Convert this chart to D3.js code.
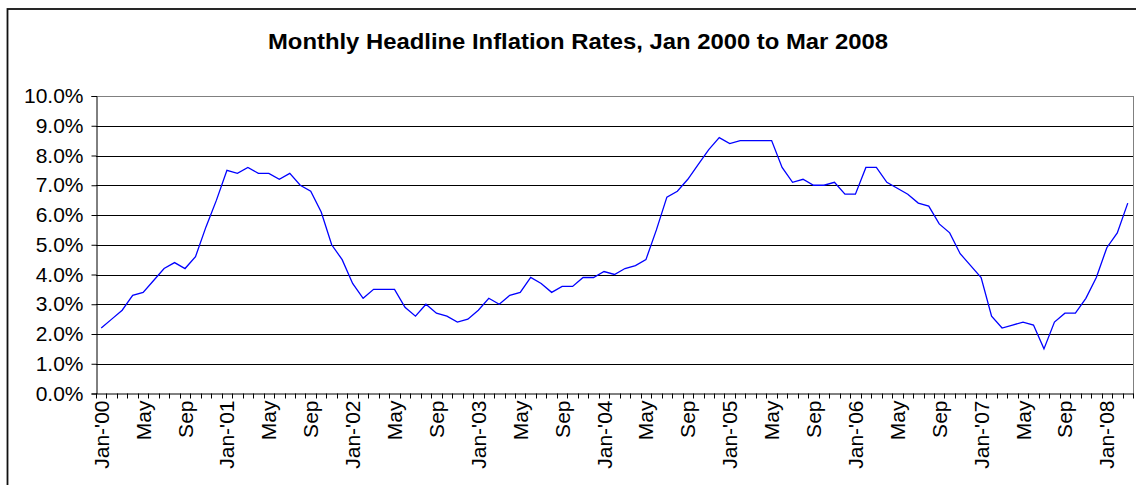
<!DOCTYPE html>
<html><head><meta charset="utf-8">
<script src="https://cdn.jsdelivr.net/npm/d3@7"></script>
<style>
html,body{margin:0;padding:0;background:#fff;}
svg text{font-family:Arial,"Liberation Sans",sans-serif;fill:#000;}
</style></head>
<body><svg id="c" width="1136" height="485"></svg>
<script>
const title = "Monthly Headline Inflation Rates, Jan 2000 to Mar 2008";
const monthNames = ["Jan","Feb","Mar","Apr","May","Jun","Jul","Aug","Sep","Oct","Nov","Dec"];
const years = ["00","01","02","03","04","05","06","07","08"];
const inflation2000 = [2.2,2.5,2.8,3.3,3.4,3.8,4.2,4.4,4.2,4.6,5.6,6.5];
const inflation2001 = [7.5,7.4,7.6,7.4,7.4,7.2,7.4,7.0,6.8,6.1,5.0,4.5];
const inflation2002 = [3.7,3.2,3.5,3.5,3.5,2.9,2.6,3.0,2.7,2.6,2.4,2.5];
const inflation2003 = [2.8,3.2,3.0,3.3,3.4,3.9,3.7,3.4,3.6,3.6,3.9,3.9];
const inflation2004 = [4.1,4.0,4.2,4.3,4.5,5.5,6.6,6.8,7.2,7.7,8.2,8.6];
const inflation2005 = [8.4,8.5,8.5,8.5,8.5,7.6,7.1,7.2,7.0,7.0,7.1,6.7];
const inflation2006 = [6.7,7.6,7.6,7.1,6.9,6.7,6.4,6.3,5.7,5.4,4.7,4.3];
const inflation2007 = [3.9,2.6,2.2,2.3,2.4,2.3,1.5,2.4,2.7,2.7,3.2,3.9];
const inflation2008 = [4.9,5.4,6.4];
const yTicks = [0,1,2,3,4,5,6,7,8,9,10];

const values = [].concat(inflation2000,inflation2001,inflation2002,inflation2003,
  inflation2004,inflation2005,inflation2006,inflation2007,inflation2008);
const categories = values.map((v,i)=>{
  const m = i%12, y = Math.floor(i/12);
  return m===0 ? "Jan-'"+years[y] : monthNames[m];
});
const labelIdx = categories.map((c,i)=>i).filter(i=>i%4===0);

const svg = d3.select("#c");
const L=96, R=1133, T=96, B=393.5;

// outer chart border (partially cropped)
svg.append("rect").attr("x",7.5).attr("y",9).attr("width",1200).attr("height",600)
  .attr("fill","none").attr("stroke","#111").attr("stroke-width",1.8);

const x = d3.scaleBand().domain(d3.range(values.length)).range([L,R]).paddingInner(0).paddingOuter(0);
const y = d3.scaleLinear().domain([0,10]).range([B,T]);

// gridlines
svg.append("g").selectAll("line").data(yTicks.filter(d=>d>0)).join("line")
  .attr("x1",L).attr("x2",R).attr("y1",d=>Math.round(y(d))+0.5).attr("y2",d=>Math.round(y(d))+0.5)
  .attr("stroke",d=>d===10?"#808080":"#000").attr("stroke-width",1);
// right plot border
svg.append("line").attr("x1",R+0.5).attr("x2",R+0.5).attr("y1",T).attr("y2",B)
  .attr("stroke","#808080");

// y axis
const yAxis = d3.axisLeft(y).tickValues(yTicks).tickFormat(d=>d.toFixed(1)+"%").tickSize(5).tickPadding(8);
const gy = svg.append("g").attr("transform",`translate(${L+0.5},0)`).call(yAxis);
gy.select(".domain").attr("stroke","#000");
gy.selectAll(".tick line").attr("stroke","#000");
gy.selectAll("text").style("font-size","21px").attr("fill","#000");

// x axis ticks at category boundaries
const xb = d3.range(values.length+1).map(i=> i<values.length ? x(i) : x(values.length-1)+x.bandwidth());
svg.append("line").attr("x1",L).attr("x2",R+1).attr("y1",B+0.5).attr("y2",B+0.5).attr("stroke","#000");
svg.append("g").selectAll("line").data(xb).join("line")
  .attr("x1",d=>Math.round(d)+0.5).attr("x2",d=>Math.round(d)+0.5)
  .attr("y1",B).attr("y2",B+5).attr("stroke","#000");

// x labels
svg.append("g").selectAll("text").data(labelIdx).join("text")
  .attr("transform",i=>`translate(${x(i)+x.bandwidth()/2},${B+7}) rotate(-90)`)
  .attr("text-anchor","end").attr("dy","0.36em").style("font-size","21px")
  .text(i=>categories[i]);

// line
const line = d3.line().x((d,i)=>x(i)+x.bandwidth()/2).y(d=>y(d));
svg.append("path").datum(values).attr("d",line).attr("fill","none")
  .attr("stroke","#0000ff").attr("stroke-width",1.3);

// title
svg.append("text").attr("x",268).attr("y",49)
  .attr("textLength",620).attr("lengthAdjust","spacingAndGlyphs")
  .style("font-size","22px").style("font-weight","bold").text(title);
</script></body></html>
